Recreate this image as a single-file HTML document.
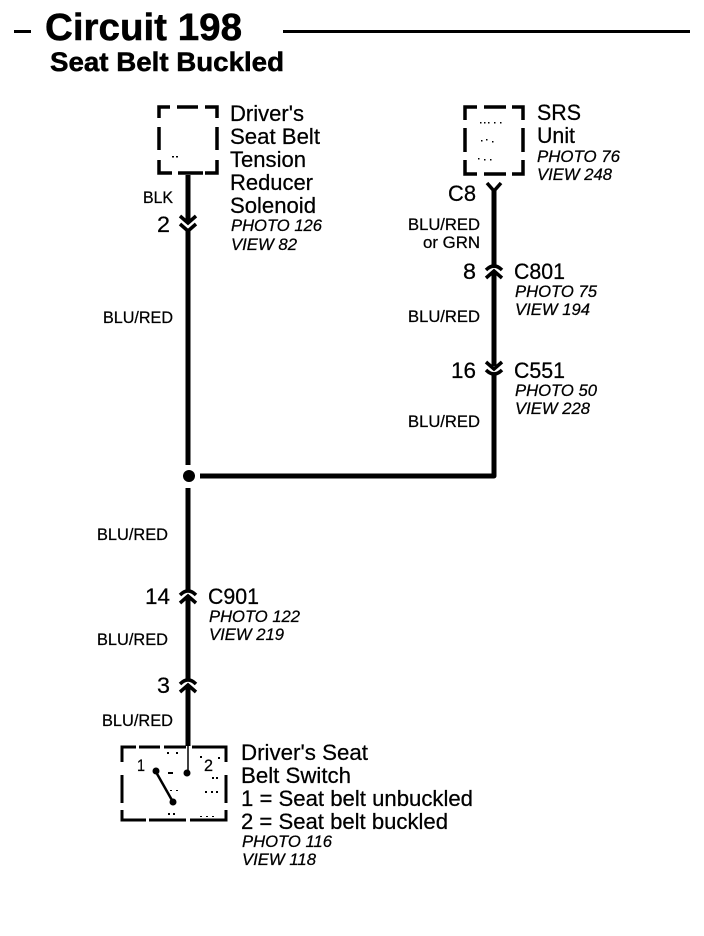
<!DOCTYPE html>
<html><head><meta charset="utf-8">
<style>
html,body{margin:0;padding:0;background:#fff}
svg{display:block}
text{font-family:"Liberation Sans",sans-serif;fill:#000;stroke:#000;stroke-width:.25px}
.n{font-size:22px}
.s{font-size:16.5px}
.i{font-size:16.5px;font-style:italic}
.b{font-weight:bold;stroke-width:.5px}
</style></head><body>
<svg width="704" height="936" viewBox="0 0 704 936" xmlns="http://www.w3.org/2000/svg">
<rect width="704" height="936" fill="#fff"/>

<!-- header -->
<rect x="14" y="30" width="17" height="3" fill="#000"/>
<rect x="283" y="30" width="407" height="3" fill="#000"/>
<text class="b" x="45" y="40" font-size="38" textLength="197" lengthAdjust="spacingAndGlyphs">Circuit 198</text>
<text class="b" x="50" y="71" font-size="26.5" textLength="234" lengthAdjust="spacingAndGlyphs">Seat Belt Buckled</text>

<!-- boxes -->
<g fill="none" stroke="#000" stroke-width="3.5">
<path d="M170 107H159V118M177 107H198M205 107H217V118M159 127V150M217 127V150M159 160V173H172M178 173H203M205 173H217V160"/>
<path d="M477 107H465V120M484 107H506M512 107H523V120M465 128V152M523 128V152M465 160V174H477M484 174H506M512 174H523V160"/>
<path d="M136 747H122V762M139 747H160M164 747H186M192 747H226V762M122 775V803M226 775V803M122 810V820H146M149 820H186M190 820H226V810" stroke-width="3"/>
</g>

<!-- wires -->
<g fill="none" stroke="#000" stroke-width="5" stroke-linejoin="round">
<path d="M188 175V222"/>
<path d="M188 230V465"/>
<path d="M188 488V592"/>
<path d="M188 596V680"/>
<path d="M188 686V746"/>
<path d="M494 190V268"/>
<path d="M494 272V366"/>
<path d="M494 374V476H200"/>
</g>
<circle cx="189" cy="476" r="6" fill="#000"/>

<!-- connectors -->
<g fill="none" stroke="#000" stroke-width="3.5">
<path d="M180 216L188 223L196 216"/>
<path d="M180 224L188 231L196 224"/>
<path d="M487 183L494 191L501 183"/>
<path d="M486 270Q494 262 502 270"/>
<path d="M486 278L494 271L502 278"/>
<path d="M486 362L494 369L502 362"/>
<path d="M486 370Q494 378 502 370"/>
<path d="M180 595Q188 587 196 595"/>
<path d="M180 603L188 596L196 603"/>
<path d="M180 684Q188 676 196 684"/>
<path d="M180 692L188 685L196 692"/>
</g>

<!-- switch internals -->
<path d="M188 746V772" stroke="#000" stroke-width="1.5" fill="none"/>
<path d="M156 772L173 802" stroke="#000" stroke-width="2.5" fill="none"/>
<circle cx="187" cy="773" r="3.5" fill="#000"/>
<circle cx="156" cy="771" r="3.5" fill="#000"/>
<circle cx="173" cy="802" r="3.5" fill="#000"/>
<g fill="#000">
<rect x="167" y="752" width="2" height="2"/><rect x="176" y="752" width="2" height="2"/>
<rect x="200" y="756" width="2" height="2"/><rect x="218" y="757" width="2" height="2"/>
<rect x="168" y="772" width="5" height="2"/><rect x="212" y="777" width="2" height="2"/><rect x="216" y="777" width="2" height="2"/>
<rect x="170" y="790" width="2" height="1"/><rect x="176" y="790" width="2" height="1"/><rect x="205" y="791" width="2" height="2"/><rect x="211" y="791" width="2" height="2"/><rect x="216" y="791" width="2" height="2"/>
<rect x="168" y="813" width="2" height="2"/><rect x="173" y="813" width="2" height="2"/><rect x="200" y="816" width="2" height="1"/><rect x="206" y="816" width="2" height="1"/><rect x="212" y="816" width="2" height="1"/>
<rect x="480" y="122" width="1.5" height="1.5"/><rect x="484" y="122" width="1.5" height="1.5"/><rect x="488" y="122" width="1.5" height="1.5"/><rect x="494" y="122" width="1.5" height="1.5"/><rect x="500" y="122" width="1.5" height="1.5"/>
<rect x="481" y="140" width="1.5" height="1.5"/><rect x="486" y="139" width="1.5" height="1.5"/><rect x="492" y="141" width="1.5" height="1.5"/>
<rect x="478" y="158" width="1.5" height="1.5"/><rect x="484" y="159" width="1.5" height="1.5"/><rect x="490" y="159" width="1.5" height="1.5"/>
<rect x="172" y="156" width="2" height="1.5"/><rect x="176" y="156" width="2" height="1.5"/>
</g>

<!-- Driver's labels -->
<text class="n" x="230" y="121" textLength="74" lengthAdjust="spacingAndGlyphs">Driver's</text>
<text class="n" x="230" y="144" textLength="90" lengthAdjust="spacingAndGlyphs">Seat Belt</text>
<text class="n" x="230" y="167" textLength="76" lengthAdjust="spacingAndGlyphs">Tension</text>
<text class="n" x="230" y="190" textLength="83" lengthAdjust="spacingAndGlyphs">Reducer</text>
<text class="n" x="230" y="213" textLength="86" lengthAdjust="spacingAndGlyphs">Solenoid</text>
<text class="i" x="231" y="231" textLength="91" lengthAdjust="spacingAndGlyphs">PHOTO 126</text>
<text class="i" x="231" y="250" textLength="66" lengthAdjust="spacingAndGlyphs">VIEW 82</text>
<text class="s" x="143" y="203" textLength="30" lengthAdjust="spacingAndGlyphs">BLK</text>
<text class="n" x="157" y="232" textLength="13" lengthAdjust="spacingAndGlyphs">2</text>
<text class="s" x="103" y="323" textLength="70" lengthAdjust="spacingAndGlyphs">BLU/RED</text>

<!-- SRS labels -->
<text class="n" x="537" y="120" textLength="44" lengthAdjust="spacingAndGlyphs">SRS</text>
<text class="n" x="537" y="143" textLength="38" lengthAdjust="spacingAndGlyphs">Unit</text>
<text class="i" x="537" y="162" textLength="83" lengthAdjust="spacingAndGlyphs">PHOTO 76</text>
<text class="i" x="537" y="180" textLength="75" lengthAdjust="spacingAndGlyphs">VIEW 248</text>
<text class="n" x="448" y="201" textLength="28" lengthAdjust="spacingAndGlyphs">C8</text>
<text class="s" x="408" y="230" textLength="72" lengthAdjust="spacingAndGlyphs">BLU/RED</text>
<text class="s" x="423" y="248" textLength="57" lengthAdjust="spacingAndGlyphs">or GRN</text>
<text class="n" x="463" y="279" textLength="13" lengthAdjust="spacingAndGlyphs">8</text>
<text class="n" x="514" y="279" textLength="51" lengthAdjust="spacingAndGlyphs">C801</text>
<text class="i" x="515" y="297" textLength="82" lengthAdjust="spacingAndGlyphs">PHOTO 75</text>
<text class="i" x="515" y="315" textLength="75" lengthAdjust="spacingAndGlyphs">VIEW 194</text>
<text class="s" x="408" y="322" textLength="72" lengthAdjust="spacingAndGlyphs">BLU/RED</text>
<text class="n" x="451" y="378" textLength="25" lengthAdjust="spacingAndGlyphs">16</text>
<text class="n" x="514" y="378" textLength="51" lengthAdjust="spacingAndGlyphs">C551</text>
<text class="i" x="515" y="396" textLength="82" lengthAdjust="spacingAndGlyphs">PHOTO 50</text>
<text class="i" x="515" y="414" textLength="75" lengthAdjust="spacingAndGlyphs">VIEW 228</text>
<text class="s" x="408" y="427" textLength="72" lengthAdjust="spacingAndGlyphs">BLU/RED</text>

<!-- lower labels -->
<text class="s" x="97" y="540" textLength="71" lengthAdjust="spacingAndGlyphs">BLU/RED</text>
<text class="n" x="145" y="604" textLength="25" lengthAdjust="spacingAndGlyphs">14</text>
<text class="n" x="208" y="604" textLength="51" lengthAdjust="spacingAndGlyphs">C901</text>
<text class="i" x="209" y="622" textLength="91" lengthAdjust="spacingAndGlyphs">PHOTO 122</text>
<text class="i" x="209" y="640" textLength="75" lengthAdjust="spacingAndGlyphs">VIEW 219</text>
<text class="s" x="97" y="645" textLength="71" lengthAdjust="spacingAndGlyphs">BLU/RED</text>
<text class="n" x="157" y="693" textLength="13" lengthAdjust="spacingAndGlyphs">3</text>
<text class="s" x="102" y="726" textLength="71" lengthAdjust="spacingAndGlyphs">BLU/RED</text>
<text class="s" x="137" y="771" textLength="8" lengthAdjust="spacingAndGlyphs">1</text>
<text class="s" x="204" y="771" textLength="9" lengthAdjust="spacingAndGlyphs">2</text>

<text class="n" x="241" y="760" textLength="127" lengthAdjust="spacingAndGlyphs">Driver's Seat</text>
<text class="n" x="241" y="783" textLength="110" lengthAdjust="spacingAndGlyphs">Belt Switch</text>
<text class="n" x="241" y="806" textLength="232" lengthAdjust="spacingAndGlyphs">1 = Seat belt unbuckled</text>
<text class="n" x="241" y="829" textLength="207" lengthAdjust="spacingAndGlyphs">2 = Seat belt buckled</text>
<text class="i" x="242" y="847" textLength="90" lengthAdjust="spacingAndGlyphs">PHOTO 116</text>
<text class="i" x="242" y="865" textLength="74" lengthAdjust="spacingAndGlyphs">VIEW 118</text>
</svg>
</body></html>
